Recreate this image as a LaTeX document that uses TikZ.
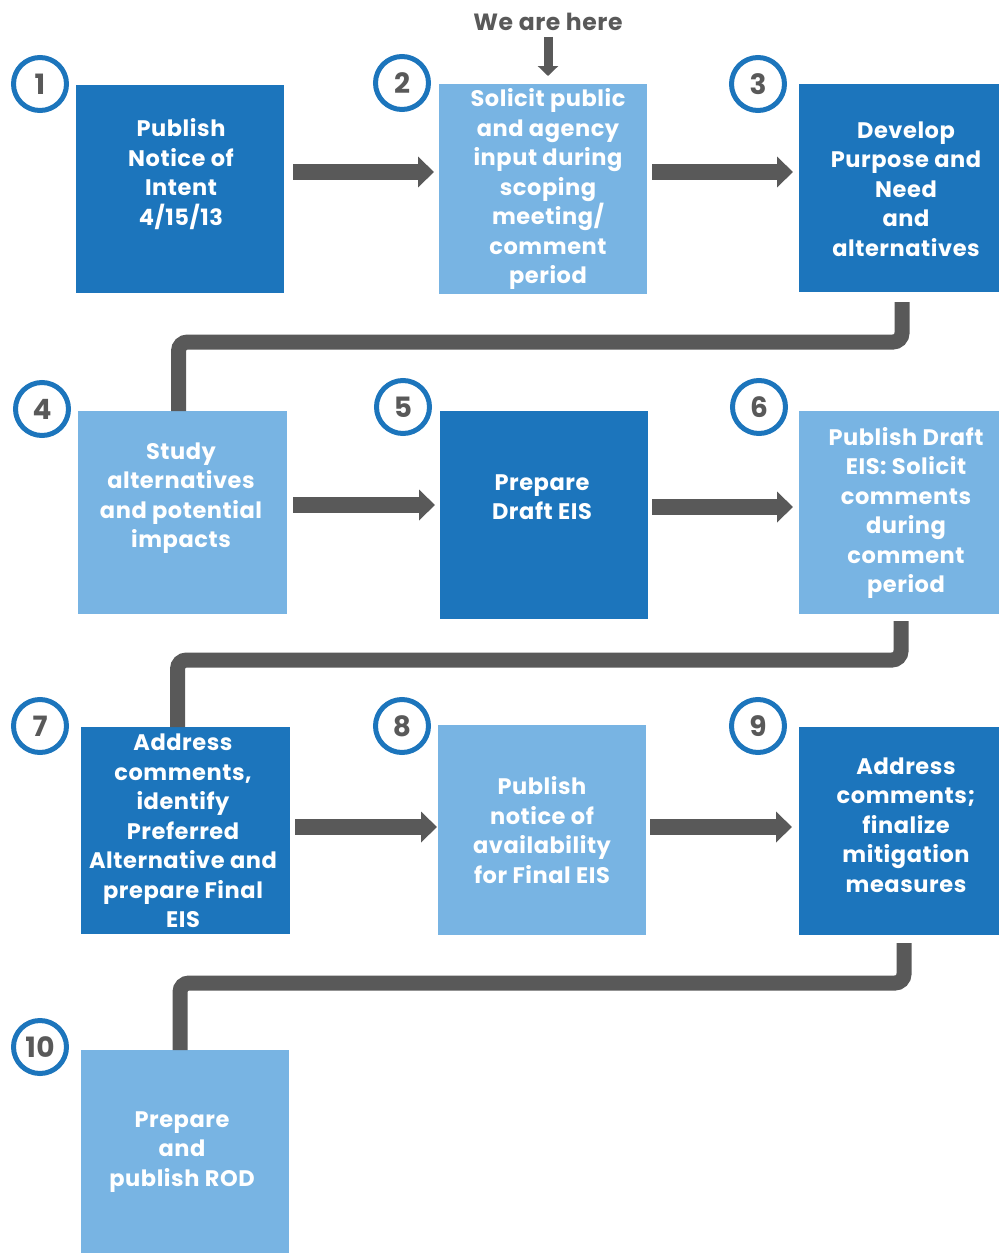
\documentclass[tikz,border=0pt]{standalone}
\usepackage{fontspec}
\setmainfont{Poppins}[LetterSpace=2.5]
\usetikzlibrary{arrows.meta}
\definecolor{dblue}{HTML}{1C75BC}
\definecolor{lblue}{HTML}{78B4E3}
\definecolor{agray}{HTML}{595959}
\begin{document}
\begin{tikzpicture}[x=1pt,y=-1pt,
  boxstyle/.style={anchor=north west, inner sep=0pt, outer sep=0pt},
  darkbox/.style={boxstyle, fill=dblue},
  lightbox/.style={boxstyle, fill=lblue},
  btext/.style={text=white, align=center, font=\fontsize{22.5}{29.5}\selectfont\bfseries, inner sep=0pt},
  numcirc/.style={circle, draw=dblue, line width=5pt, minimum size=53pt, inner sep=0pt, text=agray, font=\fontsize{28}{30}\selectfont\bfseries},
  harrow/.style={draw=agray, line width=16pt, -{Triangle[length=16pt,width=30pt]}},
  elbow/.style={draw=agray, line width=15pt, rounded corners=9pt},
  herearrow/.style={draw=agray, line width=9pt, -{Triangle[length=10pt,width=20pt]}}
]
\useasboundingbox (0,0) rectangle (999,1253);
% boxes
\node[darkbox,  minimum width=208pt, minimum height=208pt] (b1) at (76,85) {};
\node[lightbox, minimum width=208pt, minimum height=210pt] (b2) at (439,84) {};
\node[darkbox,  minimum width=200pt, minimum height=208pt] (b3) at (799,84) {};
\node[lightbox, minimum width=209pt, minimum height=203pt] (b4) at (78,411) {};
\node[darkbox,  minimum width=208pt, minimum height=208pt] (b5) at (440,411) {};
\node[lightbox, minimum width=200pt, minimum height=203pt] (b6) at (799,411) {};
\node[darkbox,  minimum width=209pt, minimum height=207pt] (b7) at (81,727) {};
\node[lightbox, minimum width=208pt, minimum height=210pt] (b8) at (438,725) {};
\node[darkbox,  minimum width=200pt, minimum height=208pt] (b9) at (799,727) {};
\node[lightbox, minimum width=208pt, minimum height=203pt] (b10) at (81,1050) {};
% texts
\node[btext] (t1) at (181,174) {Publish\\Notice of\\Intent\\4/15/13};
\node[btext] (t2) at (548,189) {Solicit public\\and agency\\input during\\scoping\\meeting/\\comment\\period};
\node[btext] (t3) at (906,189) {Develop\\Purpose and\\Need\\and\\alternatives};
\node[btext] (t4) at (181,498) {Study\\alternatives\\and potential\\impacts};
\node[btext] (t5) at (542,497) {Prepare\\Draft EIS};
\node[btext] (t6) at (906,513) {Publish Draft\\EIS: Solicit\\comments\\during\\comment\\period};
\node[btext] (t7) at (183,831) {Address\\comments,\\identify\\Preferred\\Alternative and\\prepare Final\\EIS};
\node[btext] (t8) at (542,830) {Publish\\notice of\\availability\\for Final EIS};
\node[btext] (t9) at (906,825) {Address\\comments;\\finalize\\mitigation\\measures};
\node[btext] (t10) at (182,1152) {Prepare\\and\\publish ROD};
% circles
\node[numcirc] (c1) at (40,84) {1};
\node[numcirc] (c2) at (402,83) {2};
\node[numcirc] (c3) at (758,84) {3};
\node[numcirc] (c4) at (42,409) {4};
\node[numcirc] (c5) at (403,407) {5};
\node[numcirc] (c6) at (759,407) {6};
\node[numcirc] (c7) at (40,726) {7};
\node[numcirc] (c8) at (402,726) {8};
\node[numcirc] (c9) at (758,726) {9};
\node[numcirc] (c10) at (40,1047) {10};
% we are here
\node[text=agray, font=\fontsize{23.5}{26}\selectfont\bfseries, inner sep=0pt] (here) at (548,22) {We are here};
\draw[herearrow] ([yshift=-6pt]here.south) -- ([yshift=8pt]here.south |- b2.north);
% horizontal arrows
\draw[harrow] ([xshift=9pt]b1.east |- 0,172) -- ([xshift=-5pt]b2.west |- 0,172);
\draw[harrow] ([xshift=5pt]b2.east |- 0,172) -- ([xshift=-6pt]b3.west |- 0,172);
\draw[harrow] ([xshift=6pt]b4.east |- 0,505) -- ([xshift=-5pt]b5.west |- 0,505);
\draw[harrow] ([xshift=4pt]b5.east |- 0,507) -- ([xshift=-6pt]b6.west |- 0,507);
\draw[harrow] ([xshift=5pt]b7.east |- 0,827) -- ([xshift=-1pt]b8.west |- 0,827);
\draw[harrow] ([xshift=4pt]b8.east |- 0,827) -- ([xshift=-7pt]b9.west |- 0,827);
% elbow connectors
\draw[elbow] ([xshift=3pt,yshift=-10pt]b3.south) -- ++(0,40) -| ([xshift=-4pt]b4.north);
\draw[elbow] ([xshift=2pt,yshift=-7pt]b6.south) -- ++(0,39) -| ([xshift=-8pt]b7.north);
\draw[elbow] ([xshift=5pt,yshift=-8pt]b9.south) -- ++(0,40) -| ([xshift=-5pt]b10.north);
\end{tikzpicture}
\end{document}
